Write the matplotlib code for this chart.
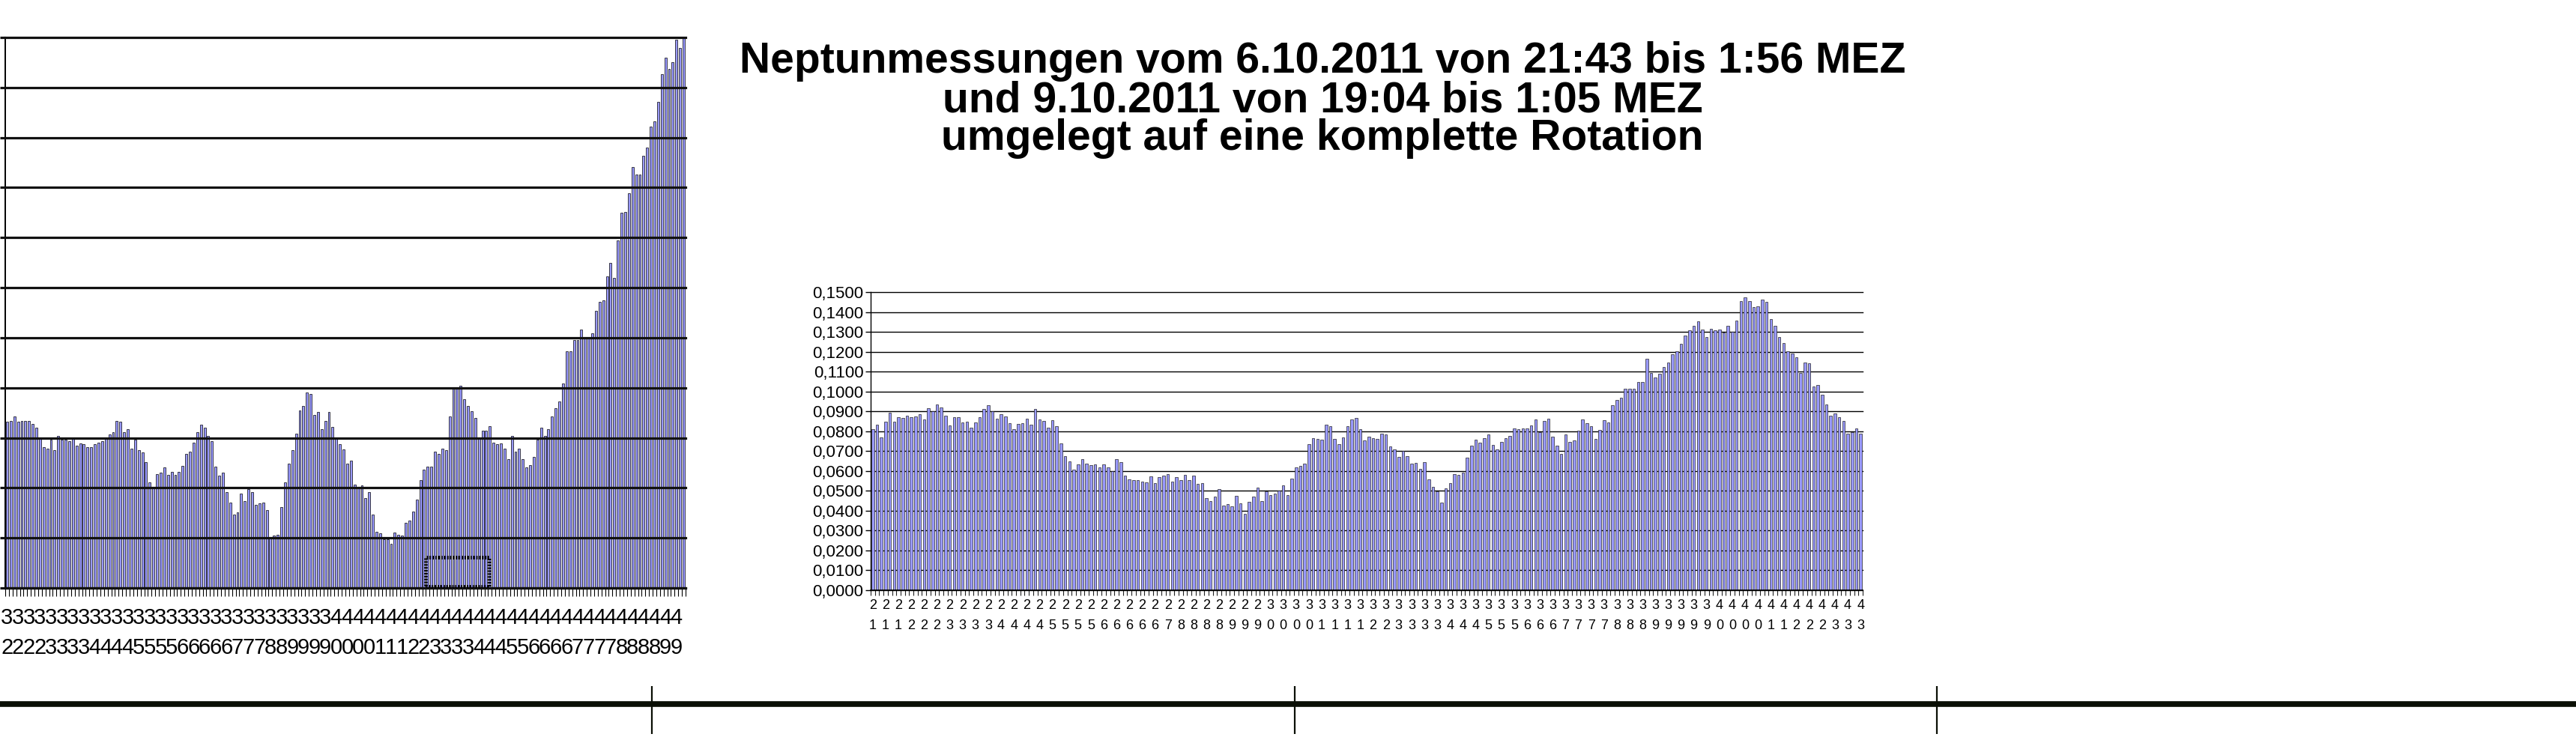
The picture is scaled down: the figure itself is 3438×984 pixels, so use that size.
import matplotlib
matplotlib.use("Agg")
import matplotlib.pyplot as plt
from matplotlib import font_manager
from matplotlib.patches import Rectangle
import numpy as np

W, H, DPI = 3438, 984, 100

# ---------------- data ----------------
title_lines = [
    "Neptunmessungen vom 6.10.2011 von 21:43 bis 1:56 MEZ",
    "und 9.10.2011 von 19:04 bis 1:05 MEZ",
    "umgelegt auf eine komplette Rotation",
]

# left (cropped, enlarged) chart, one unit = one gridline step
left_values = [
    3.32, 3.34, 3.43, 3.32, 3.34, 3.34, 3.34, 3.28, 3.21, 3.01,
    2.82, 2.79, 2.96, 2.76, 3.04, 2.97, 2.97, 2.93, 3.01, 2.84,
    2.89, 2.87, 2.82, 2.82, 2.87, 2.90, 2.94, 3.01, 3.07, 3.12,
    3.34, 3.32, 3.12, 3.18, 2.79, 2.97, 2.76, 2.71, 2.52, 2.11,
    2.01, 2.27, 2.30, 2.41, 2.26, 2.32, 2.26, 2.32, 2.44, 2.68,
    2.73, 2.90, 3.12, 3.26, 3.21, 3.04, 2.93, 2.43, 2.24, 2.30,
    1.91, 1.71, 1.46, 1.51, 1.88, 1.73, 1.98, 1.91, 1.66, 1.69,
    1.71, 1.55, 1.02, 1.05, 1.07, 1.62, 2.11, 2.48, 2.76, 3.09,
    3.54, 3.63, 3.90, 3.87, 3.45, 3.51, 3.18, 3.34, 3.51, 3.22,
    3.01, 2.87, 2.77, 2.48, 2.54, 2.07, 2.01, 2.05, 1.80, 1.92,
    1.46, 1.12, 1.10, 0.98, 0.98, 0.88, 1.11, 1.07, 1.05, 1.30,
    1.35, 1.52, 1.76, 2.16, 2.36, 2.43, 2.43, 2.73, 2.68, 2.79,
    2.76, 3.43, 3.98, 3.98, 4.04, 3.77, 3.63, 3.53, 3.40, 2.98,
    3.14, 3.14, 3.23, 2.90, 2.87, 2.89, 2.79, 2.57, 3.04, 2.73,
    2.79, 2.57, 2.41, 2.46, 2.62, 2.96, 3.21, 3.04, 3.18, 3.43,
    3.59, 3.73, 4.09,
    4.73, 4.73, 4.96, 4.96, 5.16, 4.99, 4.99, 5.09, 5.54, 5.72,
    5.75, 6.23, 6.50, 6.20, 6.95, 7.50, 7.51, 7.89, 8.41, 8.26,
    8.26, 8.64, 8.80, 9.22, 9.33, 9.72, 10.27, 10.60, 10.37, 10.51,
    10.96, 10.79, 11.00,
]
left_grid_steps = 11
left_label_row1 = "3" * 30 + "4" * 32
left_label_row2 = "2222333344445555666667778899990000111223333444556666777788889" + "9"
left_label_every = 3
left_box = (114.4, 0.03, 17.5, 0.58)   # hatched selection frame (data units)

# right chart
right_values = [
    0.0810, 0.0832, 0.0768, 0.0847, 0.0894, 0.0847, 0.0870, 0.0866, 0.0877, 0.0871,
    0.0874, 0.0885, 0.0859, 0.0915, 0.0900, 0.0934, 0.0919, 0.0877, 0.0828, 0.0870,
    0.0870, 0.0844, 0.0847, 0.0817, 0.0844, 0.0870, 0.0911, 0.0930, 0.0900, 0.0862,
    0.0885, 0.0874, 0.0840, 0.0810, 0.0836, 0.0840, 0.0862, 0.0832, 0.0911, 0.0859,
    0.0851, 0.0817, 0.0855, 0.0825, 0.0738, 0.0674, 0.0648, 0.0606, 0.0633, 0.0659,
    0.0636, 0.0629, 0.0633, 0.0618, 0.0633, 0.0618, 0.0599, 0.0659, 0.0644, 0.0576,
    0.0557, 0.0554, 0.0554, 0.0546, 0.0542, 0.0572, 0.0538, 0.0569, 0.0576, 0.0584,
    0.0546, 0.0569, 0.0554, 0.0580, 0.0554, 0.0576, 0.0535, 0.0538, 0.0463, 0.0448,
    0.0471, 0.0508, 0.0426, 0.0433, 0.0422, 0.0474, 0.0437, 0.0384, 0.0444, 0.0471,
    0.0516, 0.0448, 0.0497, 0.0478,
    0.0486, 0.0501, 0.0527, 0.0478, 0.0561, 0.0618, 0.0625, 0.0636, 0.0734, 0.0764,
    0.0761, 0.0757, 0.0832, 0.0825, 0.0761, 0.0734, 0.0768, 0.0825, 0.0859, 0.0866,
    0.0810, 0.0753, 0.0772, 0.0764, 0.0761, 0.0787, 0.0783, 0.0723, 0.0708, 0.0670,
    0.0700, 0.0674, 0.0636, 0.0640, 0.0610, 0.0644, 0.0557, 0.0520, 0.0497, 0.0441,
    0.0512, 0.0538, 0.0584, 0.0580, 0.0591, 0.0667, 0.0727, 0.0757, 0.0742, 0.0764,
    0.0783, 0.0731, 0.0708, 0.0746, 0.0764, 0.0776, 0.0813, 0.0810, 0.0813, 0.0813,
    0.0828, 0.0859, 0.0795, 0.0851, 0.0862, 0.0772, 0.0727, 0.0685, 0.0783, 0.0746,
    0.0753, 0.0802, 0.0859, 0.0840, 0.0825, 0.0761, 0.0806, 0.0855, 0.0843, 0.0930,
    0.0956, 0.0968, 0.1012, 0.1015, 0.1012, 0.1049, 0.1046, 0.1164, 0.1092, 0.1072,
    0.1088, 0.1122, 0.1145, 0.1186, 0.1201, 0.1239, 0.1280, 0.1307, 0.1329, 0.1352,
    0.1310, 0.1273, 0.1314, 0.1307, 0.1310, 0.1295, 0.1329, 0.1299, 0.1356, 0.1454,
    0.1472, 0.1454, 0.1423, 0.1427, 0.1461, 0.1450, 0.1363, 0.1329, 0.1273, 0.1243,
    0.1201, 0.1190, 0.1171, 0.1092, 0.1145, 0.1141, 0.1024, 0.1032, 0.0983, 0.0934,
    0.0877, 0.0889, 0.0870, 0.0851, 0.0787, 0.0795, 0.0813, 0.0787,
]
right_ymax = 0.15
right_ystep = 0.01
right_label_row1 = "2" * 31 + "3" * 35 + "4" * 12
right_label_row2 = ("1112223333444455556666678888999"
                    + "0000111" + "1223333444555666777788899999"
                    + "000011222333")
right_label_every = 3

# bottom time line: tick positions along a 4-segment scale
timeline_ticks = [1, 2, 3]
timeline_span = (-0.015, 3.995)

# ---------------- styling ----------------
bar_face = "#9999ff"
names = {f.name for f in font_manager.fontManager.ttflist}
narrow_font = "Liberation Sans Narrow" if "Liberation Sans Narrow" in names else "Liberation Sans"
plt.rcParams["font.family"] = ["Liberation Sans", "DejaVu Sans"]

fig = plt.figure(figsize=(W / DPI, H / DPI), dpi=DPI)
fig.patch.set_facecolor("white")


def px_box(x0, y0, x1, y1):
    return [x0 / W, (H - y1) / H, (x1 - x0) / W, (y1 - y0) / H]


# ---------------- left chart ----------------
axL = fig.add_axes(px_box(7, 50, 915, 785))
nL = len(left_values)
xL = np.arange(nL)
axL.bar(xL, left_values, width=0.6, color=bar_face, edgecolor="black",
        linewidth=0.5, zorder=2)
axL.set_xlim(-0.5, nL - 0.5)
axL.set_ylim(0, left_grid_steps)
axL.set_yticks(np.arange(0, left_grid_steps + 1))
axL.set_yticklabels([])
axL.grid(axis="y", color="#111111", linewidth=2.3, zorder=3)
axL.set_axisbelow(False)
for gl in axL.get_ygridlines():
    gl.set_clip_on(False)
axL.tick_params(axis="y", length=5, width=2.3, color="#111111", direction="out")
for s in ("top", "right"):
    axL.spines[s].set_visible(False)
axL.spines["left"].set_linewidth(1.4)
axL.spines["bottom"].set_linewidth(2.3)
labL_pos = xL[::left_label_every]
labL = [f"{a}\n{b}" for a, b in zip(left_label_row1, left_label_row2)]
axL.set_xticks(labL_pos)
axL.set_xticklabels(labL[:len(labL_pos)], family=narrow_font, fontsize=21)
axL.set_xticks(np.arange(-0.5, nL, 1.0), minor=True)
axL.tick_params(axis="x", which="major", length=0, pad=19)
axL.tick_params(axis="x", which="minor", length=8, width=0.8, color="black")
for t in axL.get_xticklabels():
    t.set_linespacing(1.55)
axL.add_patch(Rectangle((left_box[0], left_box[1]), left_box[2], left_box[3],
                        fill=False, edgecolor="black", linewidth=3.5,
                        linestyle=(0, (0.4, 0.4)), zorder=5))

# ---------------- right chart ----------------
axR = fig.add_axes(px_box(1162, 390, 2486, 788))
nR = len(right_values)
xR = np.arange(nR)
axR.bar(xR, right_values, width=0.62, color=bar_face, edgecolor="#222222",
        linewidth=0.5, zorder=2)
axR.set_xlim(-0.5, nR - 0.5)
axR.set_ylim(0, right_ymax)
yt = np.arange(0, right_ymax + right_ystep / 2, right_ystep)
axR.set_yticks(yt)
axR.set_yticklabels([f"{v:.4f}".replace(".", ",") for v in yt], fontsize=16)
axR.grid(axis="y", color="black", linewidth=1.0, zorder=1)
axR.set_axisbelow(True)
for gl in axR.get_ygridlines():
    gl.set_clip_on(False)
axR.tick_params(axis="y", length=5, width=1.0, pad=2)
for s in ("top", "right"):
    axR.spines[s].set_visible(False)
axR.spines["left"].set_linewidth(1.0)
axR.spines["bottom"].set_linewidth(1.2)
labR_pos = xR[::right_label_every]
labR = [f"{a}\n{b}" for a, b in zip(right_label_row1, right_label_row2)]
axR.set_xticks(labR_pos)
axR.set_xticklabels(labR[:len(labR_pos)], fontsize=13)
axR.set_xticks(np.arange(-0.5, nR, 1.0), minor=True)
axR.tick_params(axis="x", which="major", length=0, pad=8.5)
axR.tick_params(axis="x", which="minor", length=5, width=0.8, color="#222222")
for t in axR.get_xticklabels():
    t.set_linespacing(1.8)

# ---------------- title ----------------
title_y = [82, 135, 185]
for line, yy in zip(title_lines, title_y):
    fig.text(1765 / W, (H - yy) / H, line, ha="center", va="center",
             fontsize=41, fontweight="bold", family=["Liberation Sans", "DejaVu Sans"])

# ---------------- bottom time line ----------------
axT = fig.add_axes(px_box(0, 916, W, 980))
axT.set_xlim(*timeline_span)
axT.set_ylim(-1, 1)
axT.axhline(0.25, color="#0a0f05", linewidth=5.5)
axT.vlines(timeline_ticks, -1, 1, color="#0a0f05", linewidth=1.6)
axT.axis("off")

fig.savefig("out.png", dpi=DPI, facecolor="white")
